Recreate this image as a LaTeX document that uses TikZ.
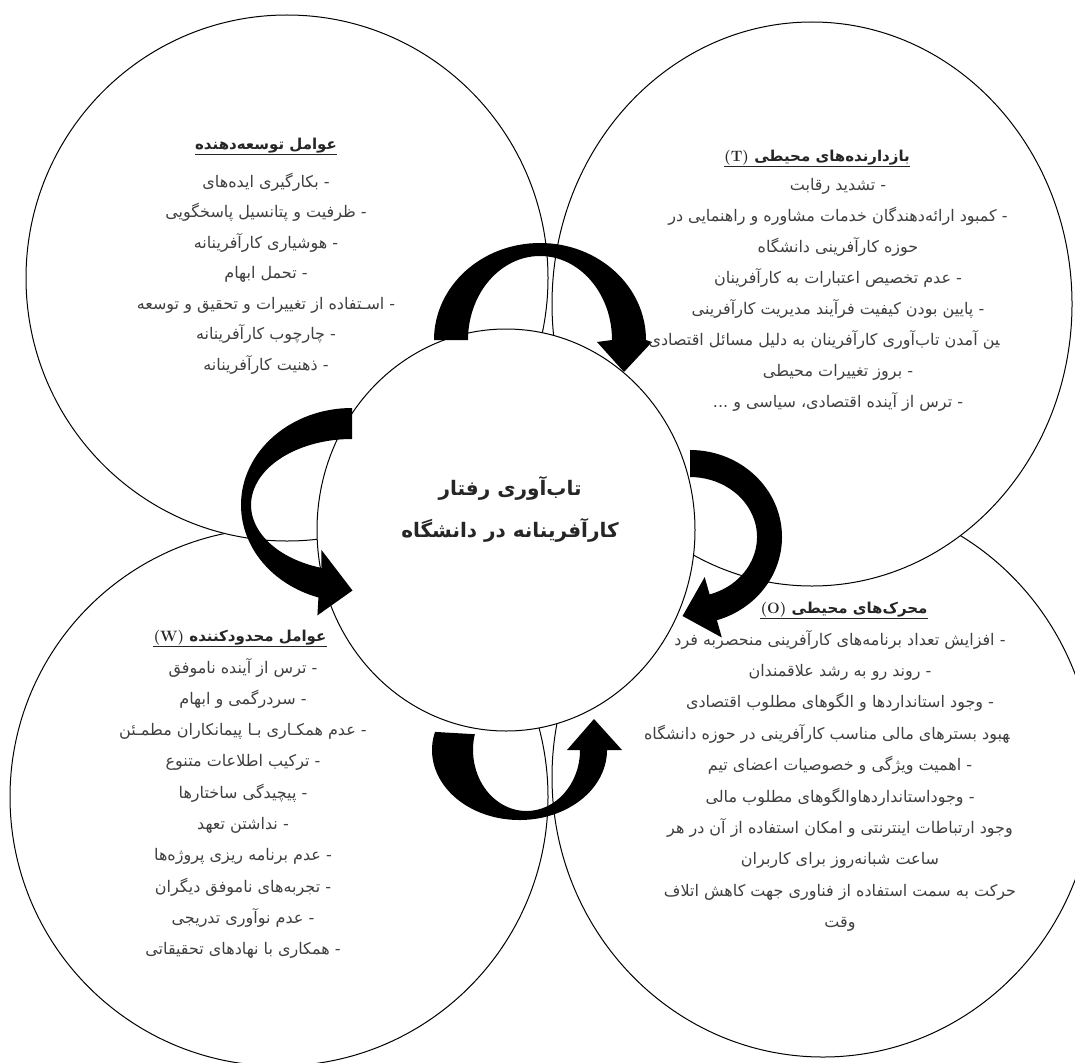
\documentclass[tikz,border=0pt]{standalone}
\usepackage{fontspec}
\usepackage{tikz}
\usetikzlibrary{shapes.geometric}
\newfontfamily\fa[Script=Arabic]{DejaVu Sans}
\TeXXeTstate=1
\definecolor{rsGray}{RGB}{64,64,64}
\definecolor{rsDark}{RGB}{38,38,38}
\newcommand{\rtl}[1]{\beginR#1\endR}
\newcommand{\lat}[1]{\beginL{\rmfamily\bfseries#1}\endL}

\begin{document}
\begin{tikzpicture}[x=1pt, y=-1pt,
  ring/.style={ellipse, draw=black, line width=1pt, fill=white, inner sep=0pt},
  item/.style={anchor=base, inner sep=0pt, text=rsGray, font=\fa\fontsize{16}{19}\selectfont},
  head/.style={anchor=base, inner sep=0pt, text=rsDark, font=\fa\bfseries\fontsize{15}{18}\selectfont},
  core/.style={anchor=base, inner sep=0pt, text=rsDark, font=\fa\bfseries\fontsize{20}{24}\selectfont},
  uline/.style={draw=rsDark, line width=0.8pt},
  curl/.style={fill=black}
]
\useasboundingbox (0,0) rectangle (1075,1062);

% outer rings (lower ones first), then the core on top
\node[ring, minimum width=538pt, minimum height=538pt] (bl) at (279,797) {};
\node[ring, minimum width=542pt, minimum height=560pt] (br) at (823,777) {};
\node[ring, minimum width=522pt, minimum height=526pt] (tl) at (287,278) {};
\node[ring, minimum width=520pt, minimum height=564pt] (tr) at (812,304) {};
\node[ring, minimum width=378pt, minimum height=402pt] (c) at (506,530) {};

% curved block arrows
\fill[curl] (434,340) arc[start angle=180, end angle=360, x radius=106, y radius=97]
  -- (652,342) -- (624,372) -- (597,342) -- (612,340)
  arc[start angle=360, end angle=180, x radius=72, y radius=84] -- cycle;
\fill[curl] (690,450) arc[start angle=270, end angle=433, x radius=92, y radius=87]
  -- (721.8,637.5) -- (682.5,616) -- (704.7,577.1) -- (709.6,594.4)
  arc[start angle=433, end angle=270, x radius=67, y radius=60] -- cycle;
\fill[curl] (352,408) arc[start angle=270, end angle=107.6, x radius=111, y radius=97]
  -- (317.4,615.4) -- (352.5,590.5) -- (321.4,549.9) -- (321.5,567.9)
  arc[start angle=107.6, end angle=270, x radius=101, y radius=66] -- cycle;
\fill[curl] (435,731.9) arc[start angle=195, end angle=0, x radius=87.5, y radius=70]
  -- (622,750) -- (594,719) -- (567,750) -- (580,750)
  arc[start angle=0, end angle=195, x radius=53.5, y radius=61] -- cycle;

% core text
\node[core] (c1) at (510,495) {\rtl{تاب‌آوری رفتار}};
\node[core] (c2) at (510,537) {\rtl{کارآفرینانه در دانشگاه}};

% top left
\node[head] (tlh) at (266,149) {\rtl{عوامل توسعه‌دهنده}};
\draw[uline] ([yshift=-5pt]tlh.base west) -- ([yshift=-5pt]tlh.base east);
\foreach \i/\t in {0/{- بکارگیری ایده‌های}, 1/{- ظرفیت و پتانسیل پاسخگویی},
  2/{- هوشیاری کارآفرینانه}, 3/{- تحمل ابهام},
  4/{- اسـتفاده از تغییرات و تحقیق و توسعه}, 5/{- چارچوب کارآفرینانه},
  6/{- ذهنیت کارآفرینانه}}
  \node[item] (tl\i) at (266,{187+30.5*\i}) {\rtl{\t}};

% top right
\node[head] (trh) at (817,161) {\rtl{بازدارنده‌های محیطی \lat{(T)}}};
\draw[uline] ([yshift=-5pt]trh.base west) -- ([yshift=-5pt]trh.base east);
\foreach \i/\t in {0/{- تشدید رقابت}, 1/{- کمبود ارائه‌دهندگان خدمات مشاوره و راهنمایی در},
  2/{حوزه کارآفرینی دانشگاه}, 3/{- عدم تخصیص اعتبارات به کارآفرینان},
  4/{- پایین بودن کیفیت فرآیند مدیریت کارآفرینی},
  6/{- بروز تغییرات محیطی}, 7/{- ترس از آینده اقتصادی، سیاسی و ...}}
  \node[item] (tr\i) at (838,{190+31.1*\i}) {\rtl{\t}};
\node[item, anchor=base east] (tr5) at (1000,{190+31.1*5}) {\rtl{‍ین آمدن تاب‌آوری کارآفرینان به دلیل مسائل اقتصادی}};

% bottom left
\node[head] (blh) at (240,641) {\rtl{عوامل محدودکننده \lat{(W)}}};
\draw[uline] ([yshift=-5pt]blh.base west) -- ([yshift=-5pt]blh.base east);
\foreach \i/\t in {0/{- ترس از آینده ناموفق}, 1/{- سردرگمی و ابهام},
  2/{- عدم همکـاری بـا پیمانکاران مطمـئن}, 3/{- ترکیب اطلاعات متنوع},
  4/{- پیچیدگی ساختارها}, 5/{- نداشتن تعهد}, 6/{- عدم برنامه ریزی پروژه‌ها},
  7/{- تجربه‌های ناموفق دیگران}, 8/{- عدم نوآوری تدریجی},
  9/{- همکاری با نهادهای تحقیقاتی}}
  \node[item] (bl\i) at (243,{673+31.3*\i}) {\rtl{\t}};

% bottom right
\node[head] (brh) at (844,613) {\rtl{محرک‌های محیطی \lat{(O)}}};
\draw[uline] ([yshift=-5pt]brh.base west) -- ([yshift=-5pt]brh.base east);
\foreach \i/\t in {0/{- افزایش تعداد برنامه‌های کارآفرینی منحصربه فرد},
  1/{- روند رو به رشد علاقمندان}, 2/{- وجود استانداردها و الگوهای مطلوب اقتصادی},
  4/{- اهمیت ویژگی و خصوصیات اعضای تیم}, 5/{- وجوداستانداردهاوالگوهای مطلوب مالی},
  6/{وجود ارتباطات اینترنتی و امکان استفاده از آن در هر},
  7/{ساعت شبانه‌روز برای کاربران},
  8/{حرکت به سمت استفاده از فناوری جهت کاهش اتلاف}, 9/{وقت}}
  \node[item] (br\i) at (840,{645+31.4*\i}) {\rtl{\t}};
\node[item, anchor=base east] (br3) at (1010,{645+31.4*3}) {\rtl{‍هبود بسترهای مالی مناسب کارآفرینی در حوزه دانشگاه}};
\end{tikzpicture}
\end{document}
